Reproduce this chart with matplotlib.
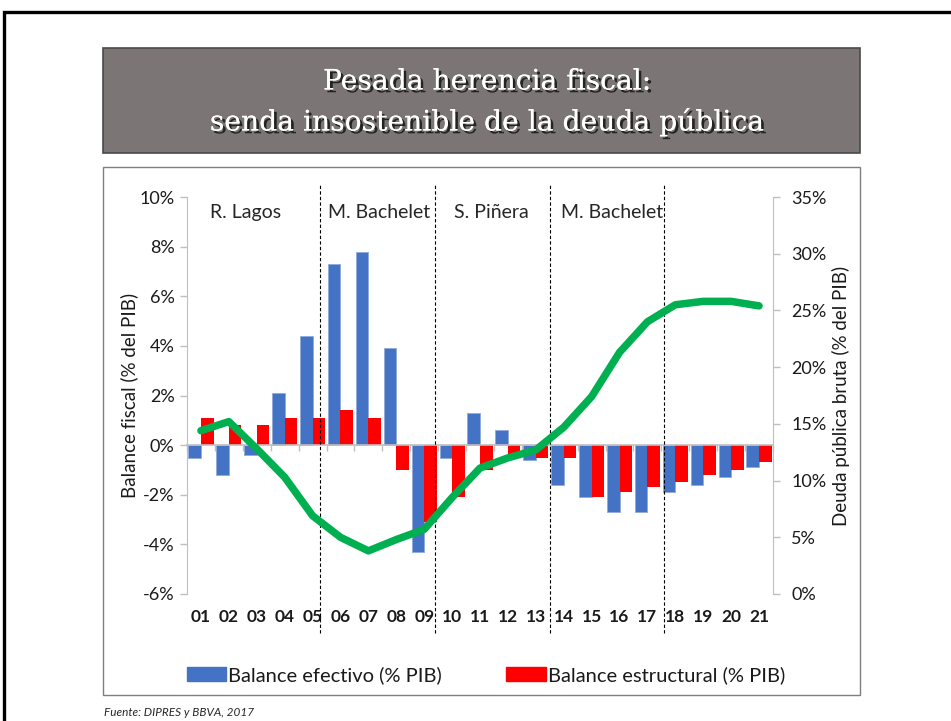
import matplotlib
matplotlib.use("Agg")
import matplotlib.pyplot as plt
import matplotlib.patheffects as pe
from matplotlib.patches import Rectangle, Patch
from matplotlib.transforms import blended_transform_factory
import numpy as np

# data
years = ["01", "02", "03", "04", "05", "06", "07", "08", "09", "10", "11",
         "12", "13", "14", "15", "16", "17", "18", "19", "20", "21"]
balance_efectivo = [-0.5, -1.2, -0.4, 2.1, 4.4, 7.3, 7.8, 3.9, -4.3, -0.5, 1.3,
                    0.6, -0.6, -1.6, -2.1, -2.7, -2.7, -1.9, -1.6, -1.3, -0.9]
balance_estructural = [1.1, 0.8, 0.8, 1.1, 1.1, 1.4, 1.1, -1.0, -3.1, -2.1, -1.0,
                       -0.5, -0.5, -0.5, -2.1, -1.9, -1.7, -1.5, -1.2, -1.0, -0.7]
deuda_bruta = [14.4, 15.2, 12.8, 10.3, 6.9, 5.0, 3.8, 4.8, 5.7, 8.5, 11.1,
               12.0, 12.7, 14.7, 17.4, 21.3, 24.0, 25.5, 25.8, 25.8, 25.4]

gobiernos = ["R. Lagos", "M. Bachelet", "S. Piñera", "M. Bachelet"]
gobierno_x = [1.61, 6.38, 10.39, 14.73]
cambios_gobierno = [4.27, 8.39, 12.51, 16.6]

left_ticks = [-6, -4, -2, 0, 2, 4, 6, 8, 10]
right_ticks = [0, 5, 10, 15, 20, 25, 30, 35]

BLUE = "#4472C4"
RED = "#FF0000"
GREEN = "#00B050"
AXIS_GRAY = "#BFBFBF"
TXT = "#1a1a1a"

plt.rcParams["font.family"] = ["Lato", "DejaVu Sans"]

fig = plt.figure(figsize=(9.51, 7.21), dpi=100)
W, H = 951, 721

def fx(px):
    return px / W

def fy(py):
    return 1 - py / H

# outer black frame (cut at the right and bottom edges)
fig.patches.append(Rectangle((fx(4), -0.2), 1.5, fy(12) + 0.2, transform=fig.transFigure,
                             fill=False, edgecolor="black", linewidth=2.4, zorder=0))

# title banner
fig.patches.append(Rectangle((fx(103), fy(153)), fx(860) - fx(103), fy(48) - fy(153),
                             transform=fig.transFigure, facecolor="#7B7675",
                             edgecolor="#4a4a4a", linewidth=1.2))
shadow = [pe.withSimplePatchShadow(offset=(2, -2), shadow_rgbFace="black", alpha=0.7),
          pe.Normal()]
for ty, line in [(82, "Pesada herencia fiscal:"), (122, "senda insostenible de la deuda pública")]:
    fig.text(fx(487), fy(ty), line, ha="center", va="center", fontsize=20.3,
             color="white", family="DejaVu Serif", path_effects=shadow)

# chart box
fig.patches.append(Rectangle((fx(103), fy(695)), fx(860) - fx(103), fy(167) - fy(695),
                             transform=fig.transFigure, fill=False,
                             edgecolor="#7f7f7f", linewidth=1.0))

ax = fig.add_axes([fx(187), fy(594), fx(773) - fx(187), fy(197) - fy(594)])
ax2 = ax.twinx()

x = np.arange(len(years))
w = 0.45
ax.bar(x - w / 2, balance_efectivo, w, color=BLUE, edgecolor="#8EA9DB", linewidth=0.6,
       label="Balance efectivo (% PIB)", zorder=2)
ax.bar(x + w / 2, balance_estructural, w, color=RED, linewidth=0,
       label="Balance estructural (% PIB)", zorder=2)

ax.set_xlim(-0.5, len(years) - 0.5)
ax.set_ylim(-6, 10)
ax.set_yticks(left_ticks)
ax.set_yticklabels([f"{t}%" for t in left_ticks])
ax.tick_params(axis="y", colors=AXIS_GRAY, labelcolor=TXT, labelsize=13,
               length=5, width=1, pad=4)

for s in ["top", "right"]:
    ax.spines[s].set_visible(False)
ax.spines["left"].set_color(AXIS_GRAY)
ax.spines["bottom"].set_position(("data", 0))
ax.spines["bottom"].set_color(AXIS_GRAY)
ax.spines["bottom"].set_linewidth(1.2)
ax.spines["bottom"].set_zorder(3)
ax.set_xticks(np.arange(len(years) + 1) - 0.5)
ax.tick_params(axis="x", colors=AXIS_GRAY, length=4, width=1, labelbottom=False)

trans = blended_transform_factory(ax.transData, ax.transAxes)
for xi, lab in zip(x, years):
    ax.text(xi, -0.058, lab, transform=trans, ha="center", va="center",
            fontsize=12.5, fontweight="bold", color=TXT)

for name, gx in zip(gobiernos, gobierno_x):
    ax.text(gx, 0.96, name, transform=trans, ha="center", va="center",
            fontsize=14, color="#262626")

for cx in cambios_gobierno:
    ax.plot([cx, cx], [-0.098, 1.035], transform=trans, clip_on=False,
            color="black", linestyle=(0, (3, 2)), linewidth=0.8, zorder=4)

ax.set_ylabel("Balance fiscal (% del PIB)", fontsize=13.5, color=TXT, labelpad=1)

ax2.plot(x, deuda_bruta, color=GREEN, linewidth=5.4, solid_capstyle="round",
         solid_joinstyle="round", zorder=5)
ax2.set_ylim(0, 35)
ax2.set_yticks(right_ticks)
ax2.set_yticklabels([f"{t}%" for t in right_ticks])
ax2.tick_params(axis="y", colors=AXIS_GRAY, labelcolor=TXT, labelsize=13,
                length=5, width=1, pad=8)
for s in ["top", "left", "bottom"]:
    ax2.spines[s].set_visible(False)
ax2.spines["right"].set_color(AXIS_GRAY)
ax2.set_ylabel("Deuda pública bruta (% del PIB)", fontsize=13.5, color=TXT, labelpad=4)

handles = [Patch(facecolor=BLUE, edgecolor=BLUE), Patch(facecolor=RED, edgecolor=RED)]
fig.legend(handles, ["Balance efectivo (% PIB)", "Balance estructural (% PIB)"],
           loc="center", bbox_to_anchor=(fx(486), fy(675)), ncol=2, frameon=False,
           fontsize=14.5, handlelength=1.95, handleheight=0.7, handletextpad=0.1,
           columnspacing=3.2, labelcolor=TXT)

fig.text(fx(104), fy(712), "Fuente: DIPRES y BBVA, 2017", ha="left", va="center",
         fontsize=8.5, style="italic", color="#262626")

fig.savefig("out.png", dpi=100)
